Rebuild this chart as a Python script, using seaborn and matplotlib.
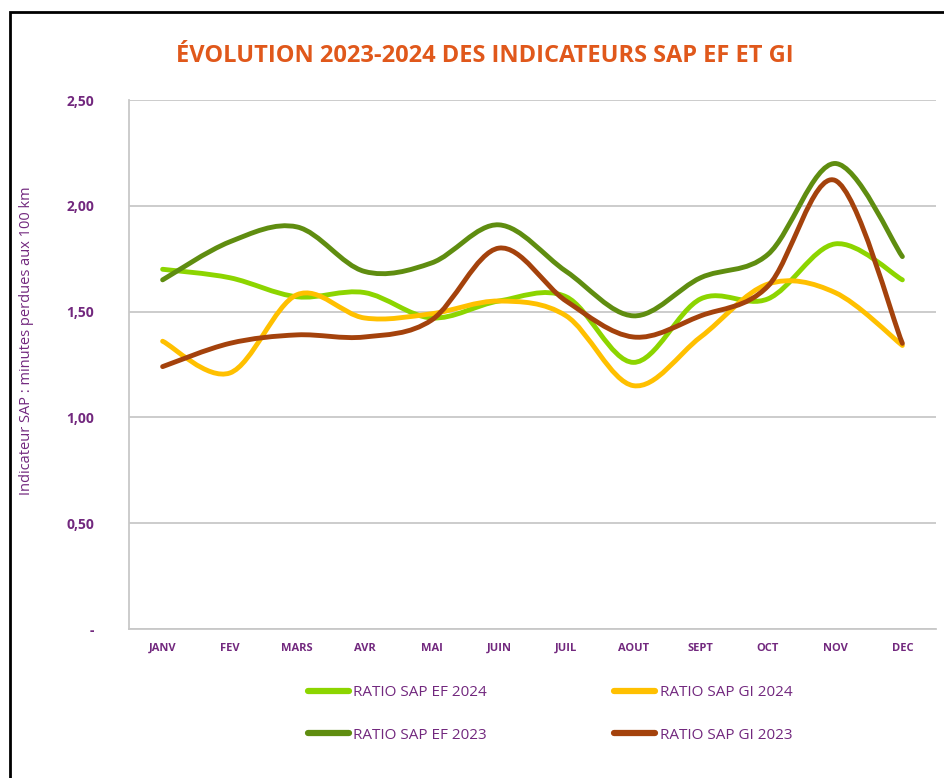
import numpy as np
import pandas as pd
import seaborn as sns
import matplotlib.pyplot as plt
from matplotlib.path import Path
from matplotlib.patches import PathPatch, Rectangle
from matplotlib.lines import Line2D
from matplotlib.ticker import FuncFormatter

months = ["JANV", "FEV", "MARS", "AVR", "MAI", "JUIN", "JUIL", "AOUT", "SEPT", "OCT", "NOV", "DEC"]
ef_2024 = [1.70, 1.66, 1.57, 1.59, 1.47, 1.55, 1.57, 1.26, 1.56, 1.56, 1.82, 1.65]
gi_2024 = [1.36, 1.21, 1.58, 1.47, 1.49, 1.55, 1.48, 1.15, 1.38, 1.63, 1.59, 1.34]
ef_2023 = [1.65, 1.83, 1.90, 1.69, 1.73, 1.91, 1.69, 1.48, 1.66, 1.77, 2.20, 1.76]
gi_2023 = [1.24, 1.35, 1.39, 1.38, 1.46, 1.80, 1.55, 1.38, 1.48, 1.62, 2.12, 1.35]

names = ["RATIO SAP EF 2024", "RATIO SAP EF 2023", "RATIO SAP GI 2024", "RATIO SAP GI 2023"]
values = [ef_2024, ef_2023, gi_2024, gi_2023]
colors = ["#8CD500", "#5F8D10", "#FFC000", "#A4420C"]

purple = "#72287E"
grid_col = "#C8C8C8"

df = pd.DataFrame({
    "mois": months * len(names),
    "serie": np.repeat(names, len(months)),
    "valeur": np.concatenate(values),
})

sns.set_style("white")
plt.rcParams["font.family"] = ["Open Sans", "DejaVu Sans"]

fig = plt.figure(figsize=(9.44, 7.78), dpi=100)
ax = fig.add_axes([129 / 944, 1 - 629 / 778, (936 - 129) / 944, (629 - 100) / 778])

sns.lineplot(data=df, x="mois", y="valeur", hue="serie", hue_order=names,
             palette=colors, sort=False, legend=False, ax=ax, linewidth=3.5)


def smooth_path(xy):
    # bezier a la Excel (catmull-rom)
    pts = np.vstack([xy[0], xy, xy[-1]])
    verts = [tuple(xy[0])]
    codes = [Path.MOVETO]
    for i in range(1, len(pts) - 2):
        p0, p1, p2, p3 = pts[i - 1], pts[i], pts[i + 1], pts[i + 2]
        c1 = p1 + (p2 - p0) / 6
        c2 = p2 - (p3 - p1) / 6
        verts += [tuple(c1), tuple(c2), tuple(p2)]
        codes += [Path.CURVE4] * 3
    return Path(verts, codes)


for line, col in zip(list(ax.lines), colors):
    xy = np.asarray(line.get_xydata())
    line.set_visible(False)
    ax.add_patch(PathPatch(smooth_path(xy), facecolor="none", edgecolor=col,
                           linewidth=3.5, capstyle="round", joinstyle="round", zorder=3))

ax.set_xlim(-0.5, 11.5)
ax.set_ylim(0, 2.5)
ax.set_yticks([0, 0.5, 1.0, 1.5, 2.0, 2.5])
ax.yaxis.set_major_formatter(FuncFormatter(lambda v, p: "-" if v == 0 else f"{v:.2f}".replace(".", ",")))
ax.grid(axis="y", color=grid_col, linewidth=1.3)
ax.set_axisbelow(True)
for s in ["top", "right"]:
    ax.spines[s].set_visible(False)
for s in ["left", "bottom"]:
    ax.spines[s].set_color(grid_col)
    ax.spines[s].set_linewidth(1.3)

ax.tick_params(axis="y", length=5, width=1.3, color=grid_col, pad=20,
               labelsize=10, labelcolor=purple)
ax.tick_params(axis="x", length=5, width=1.3, color=grid_col, pad=5,
               labelsize=8, labelcolor=purple)
for t in ax.get_yticklabels():
    t.set_fontweight("bold")
for t in ax.get_xticklabels():
    t.set_fontweight("bold")

ax.set_xlabel("")
ax.set_ylabel("Indicateur SAP : minutes perdues aux 100 km", color=purple, fontsize=10.5)
ax.yaxis.set_label_coords(-0.118, 0.545)

fig.text(485 / 944, 1 - 56 / 778, "ÉVOLUTION 2023-2024 DES INDICATEURS SAP EF ET GI",
         ha="center", va="center", color="#E0581B", fontsize=17, fontweight="bold")

handles = [Line2D([0], [0], color=c, linewidth=4.5) for c in colors]
fig.legend(handles, names, ncol=2, loc="center", bbox_to_anchor=(550 / 944, 1 - 714 / 778),
           frameon=False, labelcolor=purple, fontsize=11, handlelength=2.7,
           handletextpad=0.3, columnspacing=8.3, labelspacing=1.8)

fig.patches.append(Rectangle((10 / 944, -0.1), 1.2, 1 - 12 / 778 + 0.1, transform=fig.transFigure,
                             fill=False, edgecolor="black", linewidth=2))

fig.savefig("out.png", dpi=100)
